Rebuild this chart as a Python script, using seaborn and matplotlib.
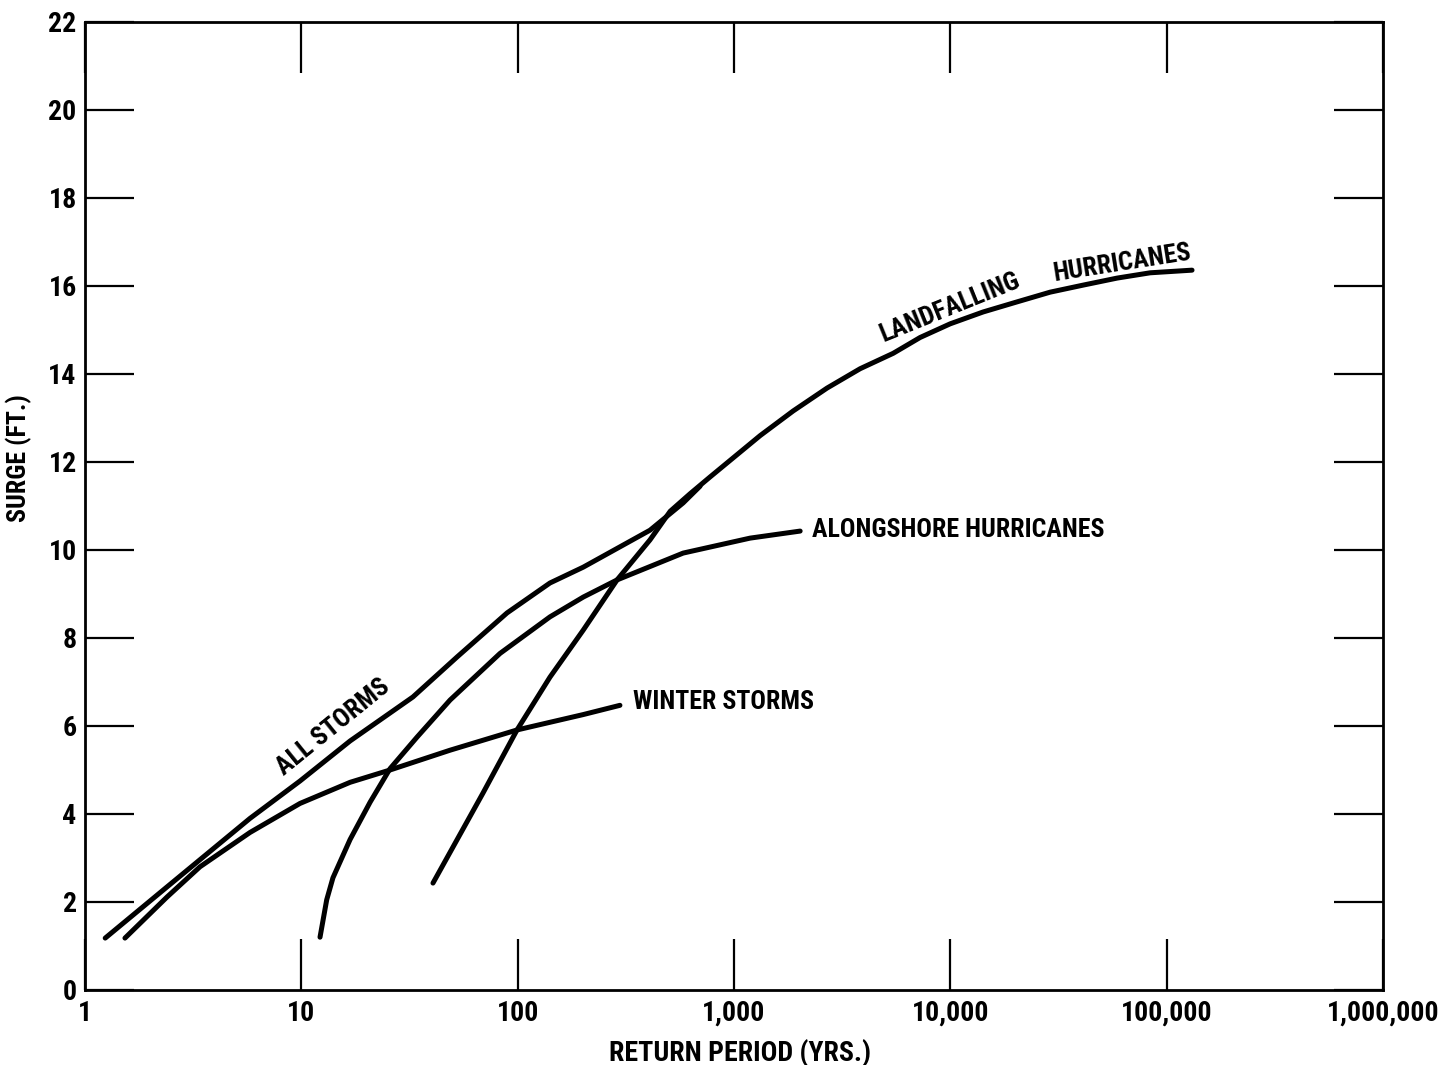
import matplotlib
matplotlib.use("Agg")
import matplotlib.pyplot as plt
import seaborn as sns
import pandas as pd
from matplotlib import font_manager as fm
from matplotlib.ticker import NullLocator

# ---------------- data ----------------
all_storms_x = [1.24, 2.39, 5.79, 9.86, 16.8, 32.8, 52.5, 89.3, 141, 201, 409, 582, 697]
all_storms_y = [1.18, 2.34, 3.90, 4.75, 5.66, 6.66, 7.57, 8.57, 9.25, 9.61, 10.45, 11.07, 11.45]

winter_x = [1.53, 2.39, 3.40, 5.79, 9.86, 16.8, 25.7, 48.7, 99.3, 201, 297]
winter_y = [1.18, 2.11, 2.80, 3.58, 4.24, 4.72, 5.00, 5.45, 5.91, 6.26, 6.47]

alongshore_x = [12.2, 13.1, 14.0, 16.8, 20.8, 25.7, 34.3, 48.7, 82.9, 141, 201, 288, 582, 1187, 2022]
alongshore_y = [1.20, 2.05, 2.55, 3.42, 4.27, 5.03, 5.75, 6.59, 7.65, 8.48, 8.93, 9.32, 9.93, 10.27, 10.43]

landfalling_x = [40.6, 69.2, 99.3, 141, 201, 288, 409, 507, 627, 775, 1321, 1877, 2692, 3828,
                 5443, 7250, 9980, 14180, 20370, 28930, 41100, 59040, 83900, 131000]
landfalling_y = [2.43, 4.48, 5.91, 7.11, 8.18, 9.32, 10.23, 10.88, 11.28, 11.66, 12.60, 13.16, 13.68, 14.12,
                 14.47, 14.83, 15.14, 15.41, 15.64, 15.86, 16.02, 16.18, 16.30, 16.36]

x_ticks = [1, 10, 100, 1000, 10000, 100000, 1000000]
x_tick_labels = ["1", "10", "100", "1,000", "10,000", "100,000", "1,000,000"]
y_ticks = list(range(0, 23, 2))
y_tick_labels = [str(v) for v in y_ticks]

series = {
    "ALL STORMS": (all_storms_x, all_storms_y),
    "WINTER STORMS": (winter_x, winter_y),
    "ALONGSHORE HURRICANES": (alongshore_x, alongshore_y),
    "LANDFALLING HURRICANES": (landfalling_x, landfalling_y),
}
rows = []
for name, (xs, ys) in series.items():
    for xv, yv in zip(xs, ys):
        rows.append({"series": name, "period": xv, "surge": yv})
df = pd.DataFrame(rows)

# ---------------- style ----------------
sns.set_theme(style="ticks")
names = {f.name for f in fm.fontManager.ttflist}
cands = ["Liberation Sans Narrow", "DejaVu Sans Condensed", "Roboto Condensed", "Open Sans Condensed"]
family = next((c for c in cands if c in names), "DejaVu Sans")
plt.rcParams["font.family"] = [family, "DejaVu Sans"]
FONT = dict(fontweight="bold", fontstretch="condensed", color="black")

fig = plt.figure(figsize=(14.42, 10.65), dpi=100)
fig.patch.set_facecolor("white")


def fit_size(text, target_px, base=20):
    t = fig.text(0, 0, text, fontsize=base, **FONT)
    fig.canvas.draw()
    w = t.get_window_extent().width
    t.remove()
    return base * target_px / w

fs_ann = fit_size("ALONGSHORE HURRICANES", 293)
fs_tick = fit_size("1,000,000", 112)
fs_xlab = fit_size("RETURN PERIOD (YRS.)", 263)
fs_ylab = fit_size("SURGE (FT.)", 128)

ax = fig.add_axes([85 / 1442, 75 / 1065, 1298 / 1442, 968 / 1065])
ax.set_facecolor("white")

sns.lineplot(data=df, x="period", y="surge", hue="series", units="series", estimator=None,
             sort=False, palette=["black"] * 4, legend=False, linewidth=3.6, ax=ax,
             solid_capstyle="round", solid_joinstyle="round")

ax.set_xscale("log")
ax.set_xlim(1, 1e6)
ax.set_ylim(0, 22)
ax.set_xticks(x_ticks)
ax.set_xticklabels(x_tick_labels, fontsize=fs_tick, **FONT)
ax.xaxis.set_minor_locator(NullLocator())
ax.set_yticks(y_ticks)
ax.set_yticklabels(y_tick_labels, fontsize=fs_tick, **FONT)

ax.tick_params(axis="x", which="major", direction="in", length=37, width=1.6,
               top=True, bottom=True, pad=7, color="black")
ax.tick_params(axis="y", which="major", direction="in", length=35, width=1.6,
               left=True, right=True, pad=6, color="black")
for sp in ax.spines.values():
    sp.set_visible(True)
    sp.set_linewidth(2.0)
    sp.set_color("black")

ax.set_xlabel("RETURN PERIOD (YRS.)", fontsize=fs_xlab, **FONT)
ax.set_ylabel("SURGE (FT.)", fontsize=fs_ylab, **FONT)
ax.xaxis.set_label_coords(0.505, -0.050)
ax.yaxis.set_label_coords(-0.041, 0.55)

# curve labels
ax.text(14.0, 5.98, "ALL STORMS", rotation=39, rotation_mode="anchor",
        ha="center", va="center", fontsize=fs_ann, **FONT)
ax.text(342, 6.55, "WINTER STORMS", ha="left", va="center", fontsize=fs_ann, **FONT)
ax.text(2297, 10.45, "ALONGSHORE HURRICANES", ha="left", va="center", fontsize=fs_ann, **FONT)
ax.text(9970, 15.52, "LANDFALLING", rotation=22, rotation_mode="anchor",
        ha="center", va="center", fontsize=fs_ann, **FONT)
ax.text(62270, 16.52, "HURRICANES", rotation=9, rotation_mode="anchor",
        ha="center", va="center", fontsize=fs_ann, **FONT)

fig.savefig("out.png", dpi=100, facecolor="white")
